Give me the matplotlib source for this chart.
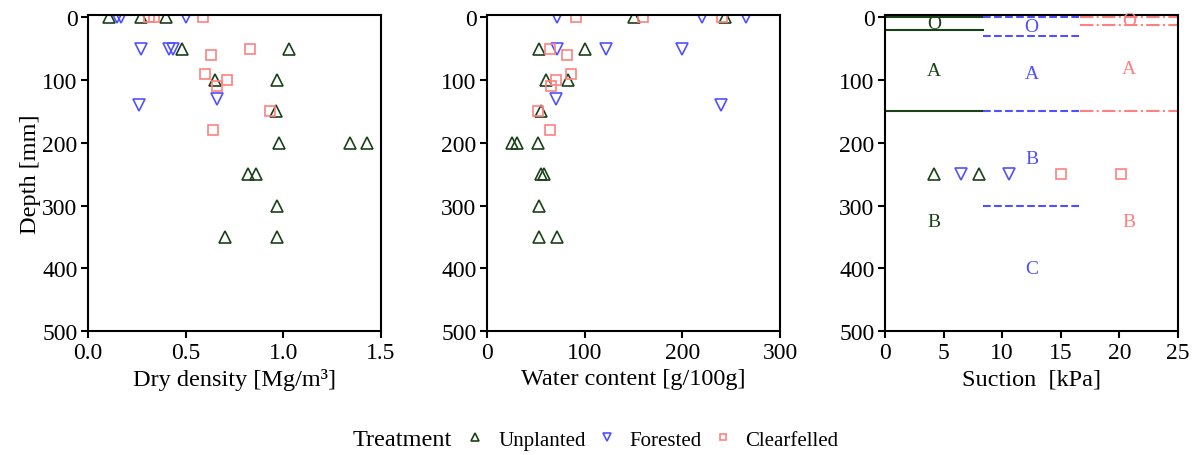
import numpy as np
import matplotlib
matplotlib.use("Agg")
import matplotlib.pyplot as plt
from matplotlib.lines import Line2D

plt.rcParams['font.family'] = ['Liberation Serif', 'DejaVu Serif']
plt.rcParams['font.size'] = 17

treatments = ['Unplanted', 'Forested', 'Clearfelled']
colors = ['#1a4219', '#5050ff', '#ff8080']
markers = ['^', 'v', 's']

# dry density [Mg/m3]
dd_depth = [
    [0, 0, 0, 50, 50, 100, 100, 150, 200, 200, 200, 250, 250, 300, 350, 350],
    [0, 0, 0, 50, 50, 50, 130, 140],
    [0, 0, 0, 50, 60, 90, 100, 110, 150, 180],
]
dd_vals = [
    [0.11, 0.27, 0.40, 0.48, 1.03, 0.65, 0.97, 0.96, 0.98, 1.34, 1.43, 0.82, 0.86, 0.97, 0.70, 0.97],
    [0.15, 0.17, 0.50, 0.27, 0.415, 0.435, 0.66, 0.26],
    [0.31, 0.34, 0.59, 0.83, 0.63, 0.60, 0.71, 0.66, 0.93, 0.64],
]

# water content [g/100g]
wc_depth = [
    [0, 0, 50, 50, 100, 100, 150, 200, 200, 200, 250, 250, 300, 350, 350],
    [0, 0, 0, 50, 50, 50, 130, 140],
    [0, 0, 0, 50, 60, 90, 100, 110, 150, 180],
]
wc_vals = [
    [150, 244, 53, 100, 60, 83, 55, 26, 31, 52, 55, 58, 53, 53, 72],
    [72, 220, 265, 72, 122, 200, 71, 240],
    [91, 160, 241, 64, 82, 86, 71, 66, 52, 65],
]

# suction [kPa]
su_depth = [[250, 250], [250, 250], [250, 250]]
su_vals = [[4.2, 8.0], [6.5, 10.55], [15.0, 20.1]]

# layer boundaries and labels on the suction panel
layer_bounds = [[0, 20, 150], [0, 30, 150, 300], [0, 12, 150]]
layer_names = [['O', 'A', 'B'], ['O', 'A', 'B', 'C'], ['O', 'A', 'B']]
line_styles = ['-', '--', '-.']

W, H = 1199, 456
fig = plt.figure(figsize=(W / 100, H / 100), dpi=100)
lefts = [88, 487, 885]
top, bottom = 15.7, 332.3
axes = []
for l in lefts:
    ax = fig.add_axes([l / W, (H - bottom) / H, 293 / W, (bottom - top) / H])
    axes.append(ax)

def style(ax):
    ax.set_ylim(500, -4)
    ax.set_yticks([0, 100, 200, 300, 400, 500])
    ax.tick_params(direction='out', length=5, width=1.5, pad=2.5, labelsize=17)
    for s in ax.spines.values():
        s.set_linewidth(1.5)

def scatter(ax, xs, ys, i):
    ax.plot(xs, ys, linestyle='none', marker=markers[i], ms=8 if i < 2 else 7,
            mfc='none', mec=colors[i], mew=1.2)

ax = axes[0]
for i in range(3):
    scatter(ax, dd_vals[i], dd_depth[i], i)
ax.set_xlim(0, 1.5)
ax.set_xticks([0.0, 0.5, 1.0, 1.5])
ax.set_xticklabels(['0.0', '0.5', '1.0', '1.5'])
ax.set_xlabel('Dry density [Mg/m³]', fontsize=17.5, labelpad=4)
ax.set_ylabel('Depth [mm]', fontsize=17.5, labelpad=1)
style(ax)

ax = axes[1]
for i in range(3):
    scatter(ax, wc_vals[i], wc_depth[i], i)
ax.set_xlim(0, 300)
ax.set_xticks([0, 100, 200, 300])
ax.set_xlabel('Water content [g/100g]', fontsize=17.5, labelpad=4)
style(ax)

ax = axes[2]
third = 25 / 3
for i in range(3):
    x0, x1 = i * third, (i + 1) * third
    for d in layer_bounds[i]:
        ax.plot([x0, x1], [d, d], color=colors[i], ls=line_styles[i], lw=1.5)
    edges = layer_bounds[i] + [500]
    for k, name in enumerate(layer_names[i]):
        ax.text((x0 + x1) / 2, (edges[k] + edges[k + 1]) / 2, name, color=colors[i],
                ha='center', va='center', fontsize=14)
    scatter(ax, su_vals[i], su_depth[i], i)
ax.set_xlim(0, 25)
ax.set_xticks([0, 5, 10, 15, 20, 25])
ax.set_xlabel('Suction  [kPa]', fontsize=17.5, labelpad=4)
style(ax)

handles = [Line2D([], [], linestyle='none', marker=markers[i], ms=6 if i < 2 else 5,
                  mfc='none', mec=colors[i], mew=1.2) for i in range(3)]
fig.text(353 / W, 1 - 441 / H, 'Treatment', fontsize=17.5, va='center', ha='left')
fig.legend(handles, treatments, loc='center left', bbox_to_anchor=(467 / W, 1 - 441 / H),
           ncol=3, frameon=False, fontsize=15, handlelength=0.8, handletextpad=0.7,
           columnspacing=0.6, borderaxespad=0, borderpad=0)

fig.savefig('out.png', dpi=100)
